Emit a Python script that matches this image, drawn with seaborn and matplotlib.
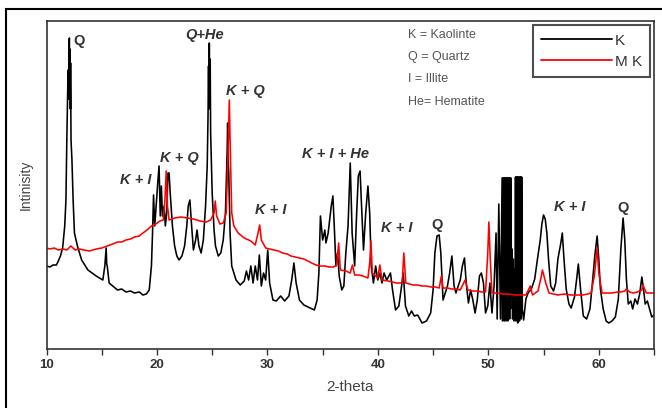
import matplotlib
matplotlib.use("Agg")
import matplotlib.pyplot as plt
import seaborn as sns
import pandas as pd
from matplotlib.patches import Rectangle
from matplotlib.ticker import MultipleLocator, NullLocator

# ---------------- data ----------------
k_theta = [10.0, 10.3, 10.6, 10.9, 11.07, 11.26, 11.46, 11.65, 11.76, 11.84, 11.95, 12.0, 12.03, 12.07,
           12.10, 12.13, 12.16, 12.18, 12.22, 12.30, 12.41, 12.53, 12.8, 13.18, 13.75, 14.5, 15.1, 15.28,
           15.4, 15.45, 15.5, 15.67, 16.0, 16.43, 16.8, 17.2, 17.6, 17.97, 18.4, 18.73, 19.04, 19.3, 19.5,
           19.6, 19.69, 19.8, 19.96, 20.07, 20.19, 20.3, 20.4, 20.5, 20.65, 20.76, 20.88, 21.0, 21.1, 21.2,
           21.4, 21.6, 21.8, 22.0, 22.26, 22.5, 22.7, 22.83, 22.98, 23.14, 23.3, 23.5, 23.63, 23.8, 24.0,
           24.2, 24.4, 24.55, 24.62, 24.67, 24.70, 24.74, 24.78, 24.82, 24.86, 24.95, 25.0, 25.17, 25.3,
           25.55, 25.78, 26.0, 26.2, 26.3, 26.36, 26.4, 26.44, 26.5, 26.62, 26.77, 27.16, 27.54, 27.9,
           28.1, 28.3, 28.5, 28.7, 28.9, 29.1, 29.27, 29.45, 29.65, 29.84, 30.03, 30.2, 30.5, 30.8, 31.2,
           31.56, 31.95, 32.2, 32.4, 32.6, 32.9, 33.3, 33.86, 34.25, 34.5, 34.66, 34.8, 35.0, 35.2, 35.3,
           35.5, 35.78, 35.93, 36.08, 36.2, 36.35, 36.5, 36.73, 36.92, 37.1, 37.3, 37.5, 37.67, 37.9,
           38.07, 38.23, 38.39, 38.5, 38.7, 38.9, 39.1, 39.26, 39.4, 39.6, 39.8, 39.99, 40.18, 40.37,
           40.56, 40.8, 41.14, 41.33, 41.6, 41.9, 42.1, 42.3, 42.5, 42.8, 43.05, 43.3, 43.6, 44.0, 44.4,
           44.78, 45.0, 45.16, 45.35, 45.55, 45.7, 45.9, 46.1, 46.3, 46.5, 46.7, 46.9, 47.07, 47.27, 47.46,
           47.65, 47.84, 48.0, 48.2, 48.4, 48.6, 48.8, 49.0, 49.2, 49.37, 49.56, 49.75, 49.95, 50.14,
           50.33, 50.52, 50.7, 50.8, 50.95, 51.1, 51.25, 51.29, 51.33, 51.37, 51.41, 51.45, 51.49, 51.53,
           51.57, 51.61, 51.65, 51.69, 51.73, 51.77, 51.81, 51.85, 51.89, 51.93, 51.97, 52.01, 52.05,
           52.09, 52.15, 52.2, 52.26, 52.32, 52.38, 52.42, 52.46, 52.50, 52.54, 52.58, 52.62, 52.66, 52.70,
           52.74, 52.78, 52.82, 52.86, 52.90, 52.94, 52.98, 53.02, 53.08, 53.2, 53.4, 53.6, 53.9, 54.2,
           54.45, 54.7, 54.85, 55.0, 55.15, 55.3, 55.45, 55.65, 55.9, 56.1, 56.3, 56.55, 56.7, 56.85,
           57.05, 57.3, 57.5, 57.8, 58.0, 58.15, 58.35, 58.6, 58.9, 59.2, 59.4, 59.63, 59.85, 60.0, 60.15,
           60.4, 60.67, 60.9, 61.2, 61.5, 61.77, 62.0, 62.2, 62.35, 62.5, 62.67, 62.9, 63.07, 63.28, 63.5,
           63.7, 63.9, 64.05, 64.2, 64.4, 64.6, 64.8, 65.0]
k_int = [83, 82, 84, 84, 88, 93, 101, 123, 149, 209, 279, 250, 300, 311,
         260, 300, 240, 286, 209, 190, 149, 116, 103, 89, 79, 73, 69, 83,
         101, 85, 83, 66, 63, 59, 60, 57, 58, 56, 57, 54, 55, 59, 83,
         116, 154, 123, 149, 166, 183, 133, 163, 133, 143, 123, 136, 176, 176, 156,
         123, 103, 93, 89, 93, 103, 123, 143, 149, 123, 99, 109, 119, 103, 96,
         109, 143, 183, 230, 283, 240, 306, 250, 290, 216, 180, 156, 119, 103,
         93, 96, 109, 136, 176, 200, 226, 190, 176, 116, 83, 69, 64, 68,
         78, 69, 83, 66, 83, 69, 94, 63, 76, 69, 99, 66, 49, 48, 53,
         48, 53, 69, 86, 66, 49, 44, 41, 39, 49, 76, 133, 109, 119, 106,
         116, 143, 153, 116, 83, 96, 73, 59, 63, 96, 123, 186, 116, 83,
         133, 173, 178, 149, 99, 136, 163, 136, 83, 66, 83, 69, 76, 66,
         76, 69, 76, 59, 39, 43, 59, 76, 43, 33, 38, 33, 34, 26, 28,
         36, 59, 96, 113, 114, 96, 49, 56, 63, 76, 93, 63, 56, 63, 69,
         83, 91, 66, 46, 59, 49, 36, 49, 73, 76, 66, 36, 43, 66,
         36, 63, 116, 30, 145, 30, 171, 28, 171, 30, 171, 28, 171, 32,
         171, 28, 171, 30, 171, 28, 171, 35, 171, 30, 171, 40, 171,
         60, 100, 30, 90, 28, 80, 30, 172, 28, 172, 30, 172, 26, 172,
         30, 172, 28, 172, 35, 172, 30, 172, 40, 29, 50, 56, 60, 70,
         90, 109, 125, 134, 130, 116, 90, 63, 58, 66, 90, 105, 116, 90,
         60, 45, 41, 52, 70, 85, 60, 33, 30, 40, 63, 92, 113, 90, 60,
         40, 28, 26, 28, 32, 50, 100, 131, 110, 70, 45, 48, 40, 50, 45,
         55, 72, 60, 45, 48, 40, 32, 34]

mk_theta = [10.0, 10.3, 10.7, 11.07, 11.5, 11.84, 12.2, 12.6, 13.0, 13.37, 13.9, 14.5, 15.0, 15.5, 16.0,
            16.43, 16.8, 17.2, 17.6, 17.97, 18.4, 18.73, 19.1, 19.5, 19.9, 20.26, 20.57, 20.72, 20.84,
            20.95, 21.1, 21.6, 22.18, 22.75, 23.3, 23.9, 24.48, 24.86, 25.17, 25.28, 25.4, 25.7, 26.0,
            26.27, 26.43, 26.55, 26.66, 26.77, 26.96, 27.35, 27.9, 28.5, 28.9, 29.15, 29.3, 29.45, 29.84,
            30.2, 30.6, 31.0, 31.37, 31.8, 32.13, 32.5, 32.9, 33.3, 33.67, 34.0, 34.4, 34.8, 35.2, 35.6,
            35.97, 36.27, 36.45, 36.6, 37.1, 37.5, 37.7, 37.9, 38.3, 38.65, 39.1, 39.26, 39.37, 39.5,
            39.99, 40.18, 40.37, 40.95, 41.3, 41.7, 42.2, 42.35, 42.53, 43.2, 43.6, 44.0, 44.4, 44.78,
            45.2, 45.55, 45.75, 45.9, 46.3, 46.7, 47.1, 47.46, 47.9, 48.15, 48.6, 49.0, 49.4, 49.75,
            49.95, 50.05, 50.18, 50.33, 50.8, 51.3, 51.8, 52.4, 52.9, 53.4, 53.8, 54.0, 54.5, 54.8, 54.9,
            55.2, 55.5, 55.9, 56.3, 56.9, 57.45, 58.0, 58.56, 59.0, 59.3, 59.6, 59.85, 60.0, 60.3, 60.7,
            61.2, 61.7, 62.0, 62.35, 62.5, 62.8, 63.1, 63.5, 63.9, 64.0, 64.3, 64.7, 65.0]
mk_int = [101, 100, 101, 99, 100, 99, 103, 99, 100, 99, 98, 100, 101, 103, 105,
          107, 107, 109, 110, 112, 113, 116, 119, 123, 125, 128, 129, 149, 178,
          143, 129, 131, 132, 131, 130, 128, 127, 129, 136, 148, 133, 125, 126,
          136, 193, 249, 189, 136, 123, 116, 111, 108, 104, 116, 124, 109, 101,
          100, 99, 98, 96, 95, 93, 92, 91, 90, 88, 86, 84, 83, 83, 82,
          82, 84, 106, 79, 78, 76, 84, 74, 74, 73, 71, 86, 108, 76,
          71, 84, 69, 68, 67, 66, 66, 96, 66, 64, 64, 63, 63, 62,
          62, 61, 73, 61, 61, 60, 60, 59, 69, 59, 58, 58, 57, 57,
          96, 127, 89, 56, 56, 55, 55, 54, 54, 54, 63, 54, 58, 73, 79,
          66, 56, 55, 54, 55, 54, 54, 54, 55, 56, 73, 101, 76, 56, 56,
          56, 57, 57, 58, 60, 57, 56, 57, 59, 64, 56, 56, 56]

series_names = ["K", "M K"]
series_colors = ["black", "#ff0000"]
x_ticks = [10, 20, 30, 40, 50, 60]

annotations = [
    ("Q", 12.4, 308, "left", "normal"),
    ("Q+He", 24.3, 314, "center", "italic"),
    ("K + Q", 28.0, 258, "center", "italic"),
    ("K + Q", 22.0, 191, "center", "italic"),
    ("K + I", 18.1, 169, "center", "italic"),
    ("K + I", 30.3, 139, "center", "italic"),
    ("K + I + He", 36.2, 195, "center", "italic"),
    ("K + I", 41.7, 121, "center", "italic"),
    ("Q", 45.35, 124, "center", "normal"),
    ("K + I", 57.4, 142, "center", "italic"),
    ("Q", 62.2, 141, "center", "normal"),
]
key_lines = ["K = Kaolinte", "Q = Quartz", "I = Illite", "He= Hematite"]
key_y = [314, 292, 270, 247]

# ---------------- plotting ----------------
sns.set_style("white")
plt.rcParams["font.family"] = ["Liberation Sans", "DejaVu Sans"]

df = pd.concat([
    pd.DataFrame({"theta": k_theta, "intensity": k_int, "sample": series_names[0]}),
    pd.DataFrame({"theta": mk_theta, "intensity": mk_int, "sample": series_names[1]}),
], ignore_index=True)

fig = plt.figure(figsize=(6.62, 4.08), dpi=100)
ax = fig.add_axes([46.5 / 662, 1 - 349 / 408, (654 - 46.5) / 662, (349 - 21.5) / 408])

sns.lineplot(data=df, x="theta", y="intensity", hue="sample",
             palette=dict(zip(series_names, series_colors)),
             estimator=None, sort=False, linewidth=1.15, ax=ax)

ax.set_xlim(10, 65)
ax.set_ylim(0, 327.5)
ax.xaxis.set_major_locator(MultipleLocator(10))
ax.xaxis.set_minor_locator(MultipleLocator(5))
ax.set_xticks(x_ticks)
ax.yaxis.set_major_locator(NullLocator())
ax.tick_params(axis="x", which="both", direction="out", bottom=True, length=4,
               width=1.0, color="#333333")
ax.tick_params(axis="x", which="major", labelsize=9.5, labelcolor="#333333", pad=3)
for lab in ax.get_xticklabels():
    lab.set_fontweight("bold")
for sp in ax.spines.values():
    sp.set_visible(True)
    sp.set_color("#333333")
    sp.set_linewidth(1.2)

ax.set_xlabel("2-theta", fontsize=11, color="#444444", labelpad=7)
ax.set_ylabel("Intinisity", fontsize=10, color="#444444", labelpad=10)

for txt, x, y, ha, style in annotations:
    ax.text(x, y, txt, ha=ha, va="center", fontsize=10.5, fontweight="bold",
            fontstyle=style, color="#333333")

for txt, y in zip(key_lines, key_y):
    ax.text(42.7, y, txt, ha="left", va="center", fontsize=9, color="#555555")

leg = ax.legend(loc="upper right", frameon=True, fancybox=False, fontsize=11,
                handlelength=4.6, borderaxespad=0.25, borderpad=0.55, labelspacing=0.45,
                handletextpad=0.2, title=None)
leg.get_frame().set_edgecolor("#222222")
leg.get_frame().set_linewidth(1.5)
for t in leg.get_texts():
    t.set_color("#333333")
for h in leg.get_lines():
    h.set_linewidth(1.3)

# outer figure frame
fig.patches.append(Rectangle((6 / 662, -0.1), 1.2, 1.1 - 9 / 408, transform=fig.transFigure,
                             fill=False, edgecolor="black", linewidth=1.5, clip_on=False))

fig.savefig("out.png", dpi=100)
